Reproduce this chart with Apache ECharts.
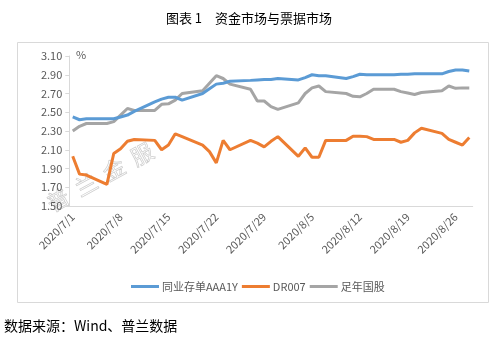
<!DOCTYPE html>
<html>
<head>
<meta charset="utf-8">
<script src="https://cdn.jsdelivr.net/npm/echarts@6/dist/echarts.min.js"></script>
<style>
html,body{margin:0;padding:0;background:#fff;}
#chart{width:498px;height:348px;}
</style>
</head>
<body>
<div id="chart"></div>
<script>
// Trading dates with observations
const tradeDates = [
  '2020/7/1','2020/7/2','2020/7/3','2020/7/6','2020/7/7','2020/7/8','2020/7/9','2020/7/10',
  '2020/7/13','2020/7/14','2020/7/15','2020/7/16','2020/7/17','2020/7/20','2020/7/21','2020/7/22',
  '2020/7/23','2020/7/24','2020/7/27','2020/7/28','2020/7/29','2020/7/30','2020/7/31',
  '2020/8/3','2020/8/4','2020/8/5','2020/8/6','2020/8/7','2020/8/10','2020/8/11','2020/8/12',
  '2020/8/13','2020/8/14','2020/8/17','2020/8/18','2020/8/19','2020/8/20','2020/8/21',
  '2020/8/24','2020/8/25','2020/8/26','2020/8/27','2020/8/28'
];
// 同业存单AAA1Y
const ncdAAA1Y = [
  2.45,2.42,2.43,2.43,2.43,2.45,2.47,2.51,
  2.61,2.64,2.66,2.66,2.63,2.70,2.75,2.80,
  2.81,2.83,2.84,2.845,2.85,2.85,2.86,
  2.845,2.87,2.90,2.89,2.89,2.86,2.88,2.905,
  2.90,2.90,2.90,2.905,2.905,2.91,2.91,
  2.91,2.935,2.95,2.95,2.94
];
// DR007
const dr007 = [
  2.03,1.84,1.83,1.73,2.06,2.11,2.19,2.21,
  2.20,2.10,2.15,2.27,2.24,2.15,2.08,1.96,
  2.20,2.10,2.20,2.17,2.13,2.19,2.24,
  2.03,2.12,2.02,2.02,2.20,2.20,2.245,2.245,
  2.24,2.21,2.21,2.18,2.20,2.28,2.33,
  2.275,2.21,2.18,2.15,2.23
];
// 足年国股
const guogu = [
  2.30,2.35,2.38,2.38,2.40,2.47,2.54,2.52,
  2.52,2.585,2.59,2.63,2.70,2.73,2.81,2.89,
  2.86,2.80,2.745,2.62,2.62,2.56,2.53,
  2.60,2.70,2.76,2.78,2.72,2.70,2.67,2.665,
  2.70,2.745,2.745,2.72,2.705,2.69,2.71,
  2.73,2.78,2.755,2.76,2.76
];
const seriesNames = ['同业存单AAA1Y','DR007','足年国股'];
const yTicks = ['1.50','1.70','1.90','2.10','2.30','2.50','2.70','2.90','3.10'];
const axisStart = '2020/7/1';
const axisEnd = '2020/8/28';

// calendar-day category axis (date axis)
function parseD(s){const p=s.split('/').map(Number);return new Date(Date.UTC(p[0],p[1]-1,p[2]));}
const days = [];
for (let d = parseD(axisStart); d <= parseD(axisEnd); d = new Date(d.getTime()+86400000)) {
  days.push(d.getUTCFullYear()+'/'+(d.getUTCMonth()+1)+'/'+d.getUTCDate());
}
function toAxis(vals){
  const m = {};
  tradeDates.forEach((t,i)=>{m[t]=vals[i];});
  return days.map(d => (d in m) ? m[d] : null);
}

const FONT = '"Noto Sans CJK SC", "Noto Sans", sans-serif';
const chart = echarts.init(document.getElementById('chart'), null, {renderer:'canvas'});
const colors = ['#5B9BD5','#ED7D31','#A5A5A5'];
chart.setOption({
  animation:false,
  backgroundColor:'#ffffff',
  title:{
    text:'图表 1\u3000资金市场与票据市场',
    left:'center', top:7,
    textStyle:{fontFamily:FONT,fontSize:13,fontWeight:'normal',color:'#000'}
  },
  graphic:[
    {type:'rect', z:-10, shape:{x:17.5,y:42.5,width:471,height:260}, style:{fill:'none',stroke:'#d9d9d9',lineWidth:1}},
    {type:'text', z:0, x:100, y:177, rotation:0.5,
      style:{text:'普  兰  金  服', fill:'rgba(255,255,255,0)', stroke:'#cccccc', lineWidth:0.7,
        font:'22px '+FONT, align:'center', verticalAlign:'middle'}},
    {type:'text', x:76, y:49, style:{text:'%', fill:'#595959', font:'11px '+FONT}},
    {type:'text', x:4, y:319, style:{text:'数据来源：Wind、普兰数据', fill:'#000', font:'14px '+FONT}}
  ],
  color:colors,
  legend:{
    left:126, top:276, itemGap:4, itemWidth:28, itemHeight:3, icon:'rect',
    textStyle:{fontFamily:FONT,fontSize:11,color:'#595959',padding:[0,0,0,-2]},
    data:seriesNames
  },
  grid:{left:69.3, right:25.3, top:56, bottom:142, containLabel:false},
  xAxis:{
    type:'category', data:days, boundaryGap:true,
    axisLine:{lineStyle:{color:'#d9d9d9'}},
    axisTick:{interval:6, length:4, lineStyle:{color:'#d9d9d9'}},
    axisLabel:{interval:6, rotate:45, margin:9, color:'#595959', fontFamily:FONT, fontSize:11},
    splitLine:{show:false}
  },
  yAxis:{
    type:'value', min:1.5, max:3.1, interval:0.2,
    axisLine:{show:true, lineStyle:{color:'#d9d9d9'}},
    axisTick:{show:true, length:4, lineStyle:{color:'#d9d9d9'}},
    axisLabel:{margin:7, color:'#595959', fontFamily:FONT, fontSize:11,
      formatter:(v)=>{const s=v.toFixed(2);return yTicks.indexOf(s)>=0?s:'';}},
    splitLine:{show:false}
  },
  series:[
    {name:seriesNames[0], type:'line', data:toAxis(ncdAAA1Y), connectNulls:true, symbol:'none', lineStyle:{width:3,color:colors[0]}, z:3},
    {name:seriesNames[1], type:'line', data:toAxis(dr007), connectNulls:true, symbol:'none', lineStyle:{width:3,color:colors[1]}, z:4},
    {name:seriesNames[2], type:'line', data:toAxis(guogu), connectNulls:true, symbol:'none', lineStyle:{width:3,color:colors[2]}, z:2}
  ]
});
</script>
</body>
</html>
